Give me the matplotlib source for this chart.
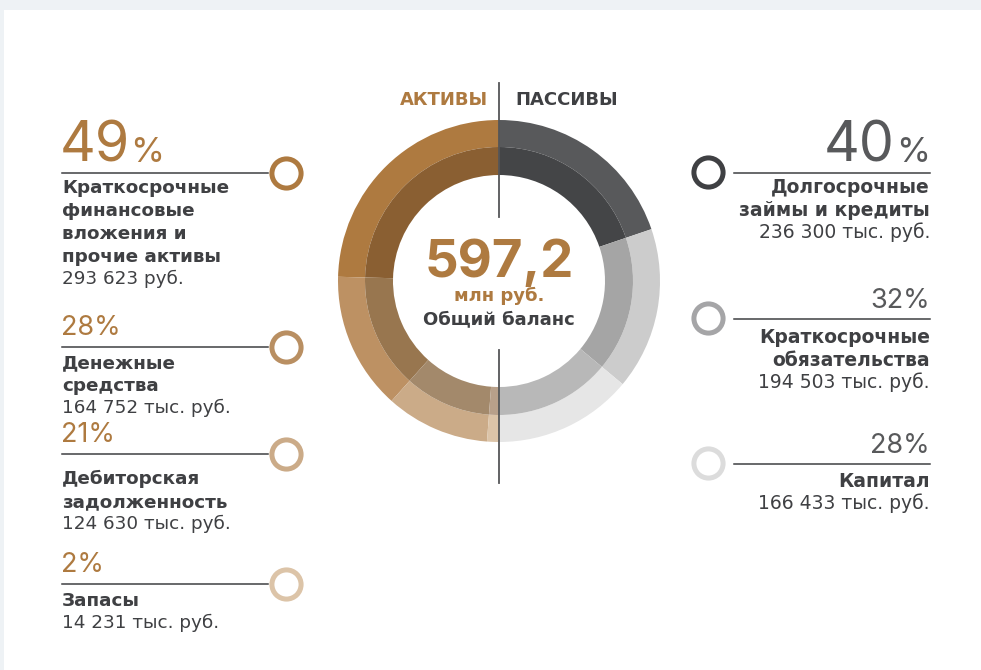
import matplotlib
matplotlib.use("Agg")
import matplotlib.pyplot as plt
from matplotlib.patches import Rectangle

plt.rcParams['font.family'] = ['DejaVu Sans']
NUMFONT = ['Inter', 'DejaVu Sans']

# данные баланса, тыс. руб.
assets_names = ["Краткосрочные\nфинансовые\nвложения и\nпрочие активы", "Денежные\nсредства",
                "Дебиторская\nзадолженность", "Запасы"]
assets_vals = [293623, 164752, 124630, 14231]
assets_pct = ["49", "28", "21", "2"]
assets_sum = ["293 623 руб.", "164 752 тыс. руб.", "124 630 тыс. руб.", "14 231 тыс. руб."]

liab_names = ["Долгосрочные\nзаймы и кредиты", "Краткосрочные\nобязательства", "Капитал"]
liab_vals = [236300, 194503, 166433]
liab_pct = ["40", "32", "28"]
liab_sum = ["236 300 тыс. руб.", "194 503 тыс. руб.", "166 433 тыс. руб."]

total = "597,2"

asset_outer = ["#ae7a40", "#bd9163", "#cbab88", "#dcc4a8"]
asset_inner = ["#8a5f32", "#98764f", "#a3896b", "#b8a08a"]
liab_outer = ["#58595b", "#cccccc", "#e6e6e6"]
liab_inner = ["#444547", "#a5a5a5", "#b8b8b8"]
asset_marker = ["#ae7a40", "#b98f62", "#cbab88", "#dcc4a8"]
liab_marker = ["#3f4043", "#a5a5a7", "#dcdcdc"]

TAN = "#ae7a40"
DARK = "#3f4043"
GRAY = "#58595b"

W, H = 981, 670
fig = plt.figure(figsize=(W / 100, H / 100), dpi=100, facecolor="#eef2f5")

# слой для фона
tx = fig.add_axes([0, 0, 1, 1])
tx.set_xlim(0, W)
tx.set_ylim(H, 0)
tx.axis("off")
tx.add_patch(Rectangle((4, 10), W, H, facecolor="white", edgecolor="none"))

# кольцевая диаграмма
cx, cy, R = 499, 281, 161
half = 175
ax = fig.add_axes([(cx - half) / W, (H - cy - half) / H, 2 * half / W, 2 * half / H])
ax.axis("off")
r_out, r_mid, r_in = 1.0, 134 / R, 106 / R
seam = dict(linewidth=0)
tot = sum(assets_vals)
ax.pie(assets_vals + [tot], colors=asset_outer + ["none"], startangle=90, counterclock=True,
       radius=r_out, wedgeprops=dict(width=r_out - r_mid, **seam))
ax.pie(assets_vals + [tot], colors=asset_inner + ["none"], startangle=90, counterclock=True,
       radius=r_mid, wedgeprops=dict(width=r_mid - r_in, **seam))
tot2 = sum(liab_vals)
ax.pie(liab_vals + [tot2], colors=liab_outer + ["none"], startangle=90, counterclock=False,
       radius=r_out, wedgeprops=dict(width=r_out - r_mid, **seam))
ax.pie(liab_vals + [tot2], colors=liab_inner + ["none"], startangle=90, counterclock=False,
       radius=r_mid, wedgeprops=dict(width=r_mid - r_in, **seam))
ax.set_xlim(-half / R, half / R)
ax.set_ylim(-half / R, half / R)

# текст и линия поверх кольца
tx2 = fig.add_axes([0, 0, 1, 1])
tx2.set_xlim(0, W)
tx2.set_ylim(H, 0)
tx2.axis("off")
tx2.plot([499, 499], [83, 217], color="#555658", lw=1.3)
tx2.plot([499, 499], [350, 483], color="#555658", lw=1.3)

tx2.text(488, 100, "АКТИВЫ", color=TAN, fontsize=13, fontweight="bold", ha="right", va="center")
tx2.text(515, 100, "ПАССИВЫ", color=DARK, fontsize=13, fontweight="bold", ha="left", va="center")

tx2.text(499, 277, total, color=TAN, fontsize=38, fontweight="bold", ha="center", va="baseline",
         family=NUMFONT)
tx2.text(499, 301, "млн руб.", color=TAN, fontsize=13, fontweight="bold", ha="center", va="baseline")
tx2.text(499, 324, "Общий баланс", color=DARK, fontsize=13, fontweight="bold", ha="center",
         va="baseline")

LBL = 13.2
LBR = 13.5

# подписи активов
a_line = [173, 347, 454, 584]
a_first = [193, 368, 484, 606]
for i in range(len(assets_vals)):
    y = a_line[i]
    if i == 0:
        tx2.text(60, y - 11, assets_pct[i], color=TAN, fontsize=40, family=NUMFONT,
                 ha="left", va="baseline")
        tx2.text(130, y - 11, "%", color=TAN, fontsize=25, family=NUMFONT, ha="left", va="baseline")
    else:
        tx2.text(61, y - 12, assets_pct[i] + "%", color=TAN, fontsize=19.5, family=NUMFONT,
                 ha="left", va="baseline")
    tx2.plot([62, 268], [y, y], color=DARK, lw=1.1)
    tx2.plot([286], [y], marker="o", markersize=21, markerfacecolor="white",
             markeredgecolor=asset_marker[i], markeredgewidth=3.6)
    yy = a_first[i]
    for ln in assets_names[i].split("\n"):
        tx2.text(62, yy, ln, color=DARK, fontsize=LBL, fontweight="bold", ha="left", va="baseline")
        yy += 23
    tx2.text(62, yy - 1, assets_sum[i], color=DARK, fontsize=LBL, ha="left", va="baseline")

# подписи пассивов
l_line = [173, 319, 464]
l_first = [193, 343, 487]
for i in range(len(liab_vals)):
    y = l_line[i]
    if i == 0:
        tx2.text(895, y - 11, liab_pct[i], color=GRAY, fontsize=40, family=NUMFONT,
                 ha="right", va="baseline")
        tx2.text(930, y - 11, "%", color=GRAY, fontsize=25, family=NUMFONT, ha="right", va="baseline")
    else:
        tx2.text(930, y - 11, liab_pct[i] + "%", color=GRAY, fontsize=19.5, family=NUMFONT,
                 ha="right", va="baseline")
    tx2.plot([734, 930], [y, y], color=DARK, lw=1.1)
    tx2.plot([708], [y - 1], marker="o", markersize=21, markerfacecolor="white",
             markeredgecolor=liab_marker[i], markeredgewidth=3.6)
    yy = l_first[i]
    for ln in liab_names[i].split("\n"):
        tx2.text(930, yy, ln, color=DARK, fontsize=LBR, fontweight="bold", ha="right", va="baseline")
        yy += 23
    tx2.text(930, yy - 1, liab_sum[i], color=DARK, fontsize=LBR, ha="right", va="baseline")

fig.savefig("out.png", dpi=100, facecolor=fig.get_facecolor())
